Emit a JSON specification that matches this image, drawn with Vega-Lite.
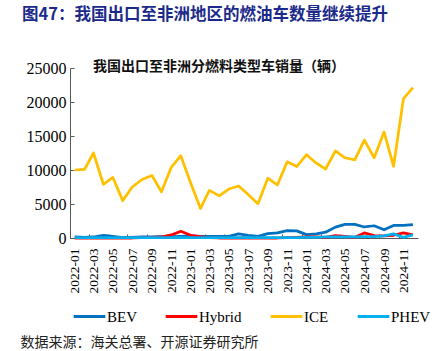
{
  "$schema": "https://vega.github.io/schema/vega-lite/v6.json",
  "width": 348,
  "height": 170,
  "autosize": {"type": "none"},
  "padding": {"left": 70, "top": 68, "right": 17, "bottom": 113},
  "background": "#ffffff",
  "title": {
    "text": "图47：我国出口至非洲地区的燃油车数量继续提升",
    "anchor": "start",
    "frame": "group",
    "dx": -48,
    "offset": 29,
    "font": "Noto Sans CJK SC",
    "fontSize": 16.5,
    "fontWeight": "bold",
    "color": "#1B2A8A"
  },
  "data": {
    "values": [
      {"month": "2022-01-01", "type": "BEV", "sales": 150},
      {"month": "2022-02-01", "type": "BEV", "sales": 100},
      {"month": "2022-03-01", "type": "BEV", "sales": 150},
      {"month": "2022-04-01", "type": "BEV", "sales": 400},
      {"month": "2022-05-01", "type": "BEV", "sales": 250},
      {"month": "2022-06-01", "type": "BEV", "sales": 50},
      {"month": "2022-07-01", "type": "BEV", "sales": 100},
      {"month": "2022-08-01", "type": "BEV", "sales": 150},
      {"month": "2022-09-01", "type": "BEV", "sales": 150},
      {"month": "2022-10-01", "type": "BEV", "sales": 200},
      {"month": "2022-11-01", "type": "BEV", "sales": 200},
      {"month": "2022-12-01", "type": "BEV", "sales": 250},
      {"month": "2023-01-01", "type": "BEV", "sales": 300},
      {"month": "2023-02-01", "type": "BEV", "sales": 250},
      {"month": "2023-03-01", "type": "BEV", "sales": 250},
      {"month": "2023-04-01", "type": "BEV", "sales": 250},
      {"month": "2023-05-01", "type": "BEV", "sales": 250},
      {"month": "2023-06-01", "type": "BEV", "sales": 600},
      {"month": "2023-07-01", "type": "BEV", "sales": 400},
      {"month": "2023-08-01", "type": "BEV", "sales": 250},
      {"month": "2023-09-01", "type": "BEV", "sales": 650},
      {"month": "2023-10-01", "type": "BEV", "sales": 750},
      {"month": "2023-11-01", "type": "BEV", "sales": 1080},
      {"month": "2023-12-01", "type": "BEV", "sales": 1050},
      {"month": "2024-01-01", "type": "BEV", "sales": 500},
      {"month": "2024-02-01", "type": "BEV", "sales": 620},
      {"month": "2024-03-01", "type": "BEV", "sales": 850},
      {"month": "2024-04-01", "type": "BEV", "sales": 1600},
      {"month": "2024-05-01", "type": "BEV", "sales": 2000},
      {"month": "2024-06-01", "type": "BEV", "sales": 2000},
      {"month": "2024-07-01", "type": "BEV", "sales": 1620},
      {"month": "2024-08-01", "type": "BEV", "sales": 1800},
      {"month": "2024-09-01", "type": "BEV", "sales": 1200},
      {"month": "2024-10-01", "type": "BEV", "sales": 1850},
      {"month": "2024-11-01", "type": "BEV", "sales": 1850},
      {"month": "2024-12-01", "type": "BEV", "sales": 1950},
      {"month": "2022-01-01", "type": "Hybrid", "sales": 0},
      {"month": "2022-02-01", "type": "Hybrid", "sales": 0},
      {"month": "2022-03-01", "type": "Hybrid", "sales": 0},
      {"month": "2022-04-01", "type": "Hybrid", "sales": 0},
      {"month": "2022-05-01", "type": "Hybrid", "sales": 0},
      {"month": "2022-06-01", "type": "Hybrid", "sales": 0},
      {"month": "2022-07-01", "type": "Hybrid", "sales": 0},
      {"month": "2022-08-01", "type": "Hybrid", "sales": 50},
      {"month": "2022-09-01", "type": "Hybrid", "sales": 100},
      {"month": "2022-10-01", "type": "Hybrid", "sales": 150},
      {"month": "2022-11-01", "type": "Hybrid", "sales": 450},
      {"month": "2022-12-01", "type": "Hybrid", "sales": 1000},
      {"month": "2023-01-01", "type": "Hybrid", "sales": 400},
      {"month": "2023-02-01", "type": "Hybrid", "sales": 200},
      {"month": "2023-03-01", "type": "Hybrid", "sales": 50},
      {"month": "2023-04-01", "type": "Hybrid", "sales": 0},
      {"month": "2023-05-01", "type": "Hybrid", "sales": 0},
      {"month": "2023-06-01", "type": "Hybrid", "sales": 0},
      {"month": "2023-07-01", "type": "Hybrid", "sales": 0},
      {"month": "2023-08-01", "type": "Hybrid", "sales": 0},
      {"month": "2023-09-01", "type": "Hybrid", "sales": 0},
      {"month": "2023-10-01", "type": "Hybrid", "sales": 0},
      {"month": "2023-11-01", "type": "Hybrid", "sales": 50},
      {"month": "2023-12-01", "type": "Hybrid", "sales": 100},
      {"month": "2024-01-01", "type": "Hybrid", "sales": 150},
      {"month": "2024-02-01", "type": "Hybrid", "sales": 150},
      {"month": "2024-03-01", "type": "Hybrid", "sales": 100},
      {"month": "2024-04-01", "type": "Hybrid", "sales": 350},
      {"month": "2024-05-01", "type": "Hybrid", "sales": 250},
      {"month": "2024-06-01", "type": "Hybrid", "sales": 100},
      {"month": "2024-07-01", "type": "Hybrid", "sales": 750},
      {"month": "2024-08-01", "type": "Hybrid", "sales": 350},
      {"month": "2024-09-01", "type": "Hybrid", "sales": 300},
      {"month": "2024-10-01", "type": "Hybrid", "sales": 400},
      {"month": "2024-11-01", "type": "Hybrid", "sales": 750},
      {"month": "2024-12-01", "type": "Hybrid", "sales": 450},
      {"month": "2022-01-01", "type": "ICE", "sales": 10000},
      {"month": "2022-02-01", "type": "ICE", "sales": 10100},
      {"month": "2022-03-01", "type": "ICE", "sales": 12500},
      {"month": "2022-04-01", "type": "ICE", "sales": 7900},
      {"month": "2022-05-01", "type": "ICE", "sales": 8900},
      {"month": "2022-06-01", "type": "ICE", "sales": 5500},
      {"month": "2022-07-01", "type": "ICE", "sales": 7500},
      {"month": "2022-08-01", "type": "ICE", "sales": 8600},
      {"month": "2022-09-01", "type": "ICE", "sales": 9200},
      {"month": "2022-10-01", "type": "ICE", "sales": 6800},
      {"month": "2022-11-01", "type": "ICE", "sales": 10400},
      {"month": "2022-12-01", "type": "ICE", "sales": 12100},
      {"month": "2023-01-01", "type": "ICE", "sales": 8100},
      {"month": "2023-02-01", "type": "ICE", "sales": 4350},
      {"month": "2023-03-01", "type": "ICE", "sales": 7000},
      {"month": "2023-04-01", "type": "ICE", "sales": 6200},
      {"month": "2023-05-01", "type": "ICE", "sales": 7200},
      {"month": "2023-06-01", "type": "ICE", "sales": 7650},
      {"month": "2023-07-01", "type": "ICE", "sales": 6400},
      {"month": "2023-08-01", "type": "ICE", "sales": 5050},
      {"month": "2023-09-01", "type": "ICE", "sales": 8800},
      {"month": "2023-10-01", "type": "ICE", "sales": 7800},
      {"month": "2023-11-01", "type": "ICE", "sales": 11200},
      {"month": "2023-12-01", "type": "ICE", "sales": 10500},
      {"month": "2024-01-01", "type": "ICE", "sales": 12250},
      {"month": "2024-02-01", "type": "ICE", "sales": 11000},
      {"month": "2024-03-01", "type": "ICE", "sales": 10150},
      {"month": "2024-04-01", "type": "ICE", "sales": 12800},
      {"month": "2024-05-01", "type": "ICE", "sales": 11800},
      {"month": "2024-06-01", "type": "ICE", "sales": 11500},
      {"month": "2024-07-01", "type": "ICE", "sales": 14400},
      {"month": "2024-08-01", "type": "ICE", "sales": 11800},
      {"month": "2024-09-01", "type": "ICE", "sales": 15600},
      {"month": "2024-10-01", "type": "ICE", "sales": 10550},
      {"month": "2024-11-01", "type": "ICE", "sales": 20450},
      {"month": "2024-12-01", "type": "ICE", "sales": 22100},
      {"month": "2022-01-01", "type": "PHEV", "sales": 50},
      {"month": "2022-02-01", "type": "PHEV", "sales": 50},
      {"month": "2022-03-01", "type": "PHEV", "sales": 50},
      {"month": "2022-04-01", "type": "PHEV", "sales": 50},
      {"month": "2022-05-01", "type": "PHEV", "sales": 50},
      {"month": "2022-06-01", "type": "PHEV", "sales": 50},
      {"month": "2022-07-01", "type": "PHEV", "sales": 50},
      {"month": "2022-08-01", "type": "PHEV", "sales": 50},
      {"month": "2022-09-01", "type": "PHEV", "sales": 50},
      {"month": "2022-10-01", "type": "PHEV", "sales": 50},
      {"month": "2022-11-01", "type": "PHEV", "sales": 50},
      {"month": "2022-12-01", "type": "PHEV", "sales": 50},
      {"month": "2023-01-01", "type": "PHEV", "sales": 50},
      {"month": "2023-02-01", "type": "PHEV", "sales": 50},
      {"month": "2023-03-01", "type": "PHEV", "sales": 50},
      {"month": "2023-04-01", "type": "PHEV", "sales": 50},
      {"month": "2023-05-01", "type": "PHEV", "sales": 50},
      {"month": "2023-06-01", "type": "PHEV", "sales": 50},
      {"month": "2023-07-01", "type": "PHEV", "sales": 50},
      {"month": "2023-08-01", "type": "PHEV", "sales": 50},
      {"month": "2023-09-01", "type": "PHEV", "sales": 50},
      {"month": "2023-10-01", "type": "PHEV", "sales": 50},
      {"month": "2023-11-01", "type": "PHEV", "sales": 50},
      {"month": "2023-12-01", "type": "PHEV", "sales": 50},
      {"month": "2024-01-01", "type": "PHEV", "sales": 100},
      {"month": "2024-02-01", "type": "PHEV", "sales": 100},
      {"month": "2024-03-01", "type": "PHEV", "sales": 150},
      {"month": "2024-04-01", "type": "PHEV", "sales": 150},
      {"month": "2024-05-01", "type": "PHEV", "sales": 150},
      {"month": "2024-06-01", "type": "PHEV", "sales": 150},
      {"month": "2024-07-01", "type": "PHEV", "sales": 200},
      {"month": "2024-08-01", "type": "PHEV", "sales": 200},
      {"month": "2024-09-01", "type": "PHEV", "sales": 300},
      {"month": "2024-10-01", "type": "PHEV", "sales": 600},
      {"month": "2024-11-01", "type": "PHEV", "sales": 100},
      {"month": "2024-12-01", "type": "PHEV", "sales": 450}
    ]
  },
  "layer": [
    {
      "mark": {"type": "line", "strokeWidth": 2.75, "strokeJoin": "round"},
      "encoding": {
        "x": {
          "field": "month",
          "type": "temporal",
          "scale": {
            "type": "utc",
            "domain": [
              {"year": 2021, "month": 12, "date": 17, "utc": true},
              {"year": 2024, "month": 12, "date": 17, "utc": true}
            ]
          },
          "axis": {
            "orient": "bottom",
            "values": [
              {"year": 2022, "month": 1, "date": 1, "utc": true},
              {"year": 2022, "month": 3, "date": 1, "utc": true},
              {"year": 2022, "month": 5, "date": 1, "utc": true},
              {"year": 2022, "month": 7, "date": 1, "utc": true},
              {"year": 2022, "month": 9, "date": 1, "utc": true},
              {"year": 2022, "month": 11, "date": 1, "utc": true},
              {"year": 2023, "month": 1, "date": 1, "utc": true},
              {"year": 2023, "month": 3, "date": 1, "utc": true},
              {"year": 2023, "month": 5, "date": 1, "utc": true},
              {"year": 2023, "month": 7, "date": 1, "utc": true},
              {"year": 2023, "month": 9, "date": 1, "utc": true},
              {"year": 2023, "month": 11, "date": 1, "utc": true},
              {"year": 2024, "month": 1, "date": 1, "utc": true},
              {"year": 2024, "month": 3, "date": 1, "utc": true},
              {"year": 2024, "month": 5, "date": 1, "utc": true},
              {"year": 2024, "month": 7, "date": 1, "utc": true},
              {"year": 2024, "month": 9, "date": 1, "utc": true},
              {"year": 2024, "month": 11, "date": 1, "utc": true}
            ],
            "labelExpr": "utcFormat(datum.value, '%Y-%m')",
            "labelAngle": -90,
            "labelAlign": "right",
            "labelBaseline": "middle",
            "labelFont": "Liberation Serif",
            "labelFontSize": 13.5,
            "labelColor": "#000000",
            "labelPadding": 14,
            "labelOverlap": false,
            "labelFlush": false,
            "tickSize": -4,
            "tickColor": "#595959",
            "tickWidth": 1,
            "tickOffset": -4.8,
            "labelOffset": 4.8,
            "domainColor": "#595959",
            "domainWidth": 1,
            "title": null,
            "grid": false
          }
        },
        "y": {
          "field": "sales",
          "type": "quantitative",
          "scale": {"domain": [0, 25000], "nice": false},
          "axis": {
            "values": [0, 5000, 10000, 15000, 20000, 25000],
            "format": "d",
            "labelOverlap": false,
            "labelFont": "Liberation Serif",
            "labelFontSize": 16,
            "labelColor": "#000000",
            "labelPadding": 8,
            "tickSize": -4,
            "tickColor": "#595959",
            "domainColor": "#595959",
            "title": null,
            "grid": false
          }
        },
        "color": {
          "field": "type",
          "type": "nominal",
          "scale": {
            "domain": ["BEV", "Hybrid", "ICE", "PHEV"],
            "range": ["#0070C0", "#FF0000", "#FFC000", "#00B0F0"]
          },
          "legend": {
            "orient": "none",
            "legendX": 2,
            "legendY": 231,
            "direction": "horizontal",
            "gridAlign": "none",
            "title": null,
            "symbolType": "stroke",
            "symbolSize": 1000,
            "symbolStrokeWidth": 3,
            "labelFont": "Liberation Serif",
            "labelFontSize": 15,
            "labelColor": "#000000",
            "columnPadding": 22,
            "labelOffset": 0
          }
        }
      }
    },
    {
      "mark": {"type": "point", "opacity": 0},
      "encoding": {
        "x": {
          "field": "month",
          "type": "temporal",
          "axis": {
            "orient": "top",
            "offset": 16,
            "labels": false,
            "ticks": false,
            "domain": false,
            "grid": false,
            "title": "我国出口至非洲分燃料类型车销量（辆）",
            "titleX": 148.5,
            "titleY": 14,
            "titleAlign": "center",
            "titleBaseline": "middle",
            "titleAngle": 0,
            "titleFont": "Noto Sans CJK SC",
            "titleFontSize": 14,
            "titleFontWeight": "bold",
            "titleColor": "#111111"
          }
        }
      }
    },
    {
      "mark": {"type": "point", "opacity": 0},
      "encoding": {
        "x": {
          "field": "month",
          "type": "temporal",
          "axis": {
            "orient": "bottom",
            "offset": 91,
            "labels": false,
            "ticks": false,
            "domain": false,
            "grid": false,
            "title": "数据来源：海关总署、开源证券研究所",
            "titleX": -50,
            "titleY": 13,
            "titleAlign": "left",
            "titleBaseline": "middle",
            "titleAngle": 0,
            "titleFont": "Noto Sans CJK SC",
            "titleFontSize": 14,
            "titleFontWeight": "normal",
            "titleColor": "#222222"
          }
        }
      }
    }
  ],
  "resolve": {"axis": {"x": "independent", "y": "independent"}},
  "config": {"view": {"stroke": null}}
}
